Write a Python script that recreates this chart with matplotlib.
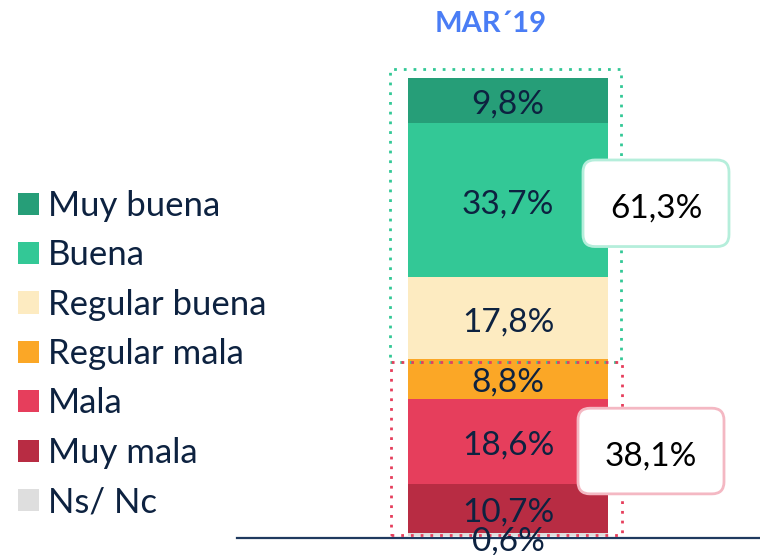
import matplotlib.pyplot as plt
from matplotlib.patches import Rectangle, FancyBboxPatch, Patch

categories = ["Muy buena", "Buena", "Regular buena", "Regular mala", "Mala", "Muy mala", "Ns/ Nc"]
values = [9.8, 33.7, 17.8, 8.8, 18.6, 10.7, 0.6]
colors = ["#269E78", "#33C896", "#FDEBC1", "#FBA726", "#E63E5C", "#B82C43", "#DEDEDE"]
period = "MAR\u00b419"
positive_total = 61.3
negative_total = 38.1

TEXT = "#0D2240"
FONT = "Lato"


def fmt(v):
    return f"{v:.1f}".replace(".", ",") + "%"


W, H = 760, 555
fig = plt.figure(figsize=(W / 100, H / 100), dpi=100)

# axes in pixel units: x spans 237..760, y 0..100 maps to px 536..78
px_per = (536 - 78) / 100
ax = fig.add_axes([237 / W, (H - 536) / H, (760 - 237) / W, (536 - 78) / H])
ax.set_xlim(237, 760)
ax.set_ylim(0, 100)
ax.axis("off")
ax.axhline(-0.45, color="#1F3A5F", lw=1.6, clip_on=False)

# stack from the bottom (Ns/Nc) upward
bottom = 0
for cat, v, c in zip(categories[::-1], values[::-1], colors[::-1]):
    ax.bar(508, v, width=200, bottom=bottom, color=c, edgecolor="none")
    y = bottom + v / 2 - 0.9
    if v < 2:
        y = bottom + v / 2 - 1.6
    ax.text(508, y, fmt(v), ha="center", va="center", fontsize=24,
            family=FONT, color=TEXT, zorder=5)
    bottom += v

# dotted group frames
ax.add_patch(Rectangle((390, negative_total), 231, 102.0 - negative_total, fill=False,
                       ls=(0, (1, 2.5)), lw=2, ec="#33C896", clip_on=False, zorder=4))
ax.add_patch(Rectangle((391, 0.2), 231, negative_total - 0.2, fill=False,
                       ls=(0, (1, 2.5)), lw=2, ec="#E63E5C", clip_on=False, zorder=4))

# callout boxes
for x0, y0, y1, ec, val in [(583, 63.2, 82.1, "#B5EEDB", positive_total),
                            (578, 9.2, 27.9, "#F4B8C3", negative_total)]:
    ax.add_patch(FancyBboxPatch((x0, y0), 146, y1 - y0,
                                boxstyle="round,pad=0,rounding_size=12",
                                mutation_aspect=1 / px_per,
                                fc="white", ec=ec, lw=2, clip_on=False, zorder=6))
    ax.text(x0 + 73, (y0 + y1) / 2 - 1.1, fmt(val), ha="center", va="center",
            fontsize=24, family=FONT, color="black", zorder=7)

fig.text(491 / W, 1 - 24 / H, period, ha="center", va="center", fontsize=21,
         fontweight="bold", family=FONT, color="#4A7DF5")

handles = [Patch(fc=c, ec="none") for c in colors]
fig.legend(handles, categories, loc="upper left", bbox_to_anchor=(18 / W, 1 - 190 / H),
           frameon=False, prop={"family": FONT, "size": 25}, labelcolor=TEXT,
           handlelength=0.6, handleheight=0.6, handletextpad=0.26, labelspacing=0.5,
           borderpad=0, borderaxespad=0)

fig.savefig("out.png", dpi=100)
